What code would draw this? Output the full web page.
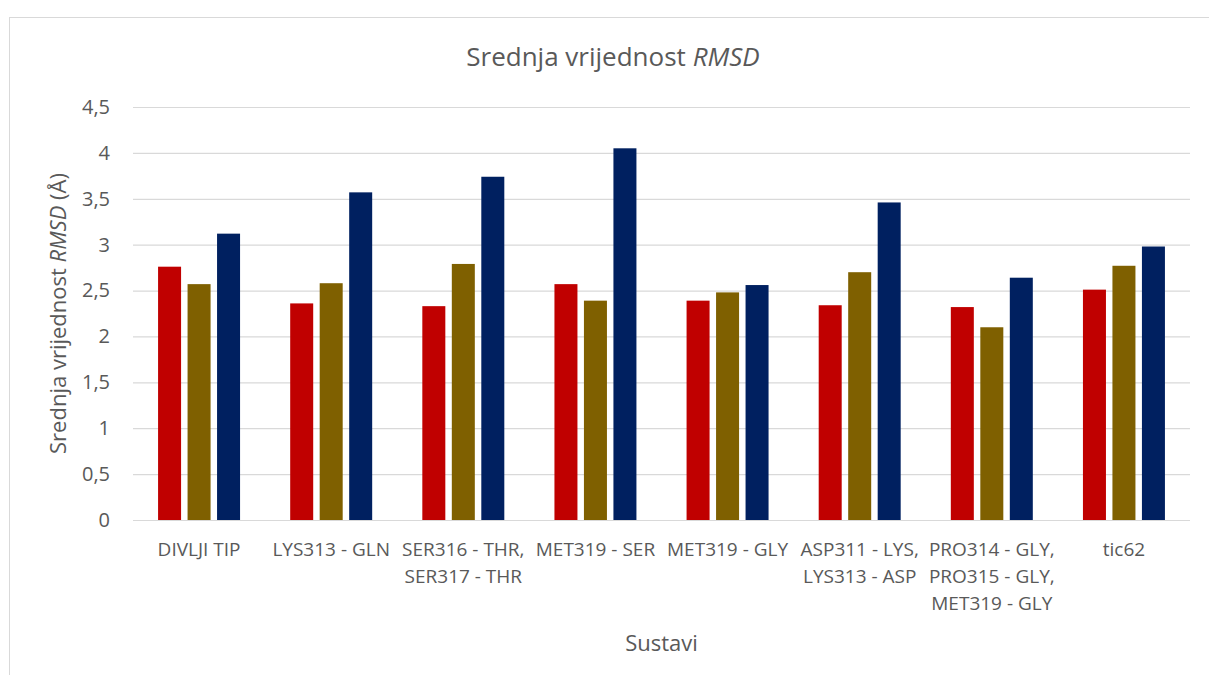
<!DOCTYPE html>
<html>
<head>
<meta charset="utf-8">
<script src="https://cdn.jsdelivr.net/npm/d3@7"></script>
<style>
  html, body { margin: 0; padding: 0; background: #fff; }
  svg { display: block; font-family: "Open Sans", sans-serif; }
</style>
</head>
<body>
<div id="chart"></div>
<script>
// systems (x categories), each label split into lines
const categories = [
  ["DIVLJI TIP"],
  ["LYS313 - GLN"],
  ["SER316 - THR,", "SER317 - THR"],
  ["MET319 - SER"],
  ["MET319 - GLY"],
  ["ASP311 - LYS,", "LYS313 - ASP"],
  ["PRO314 - GLY,", "PRO315 - GLY,", "MET319 - GLY"],
  ["tic62"],
];
const seriesNames = ["s1", "s2", "s3"];
const series1 = [2.76, 2.36, 2.33, 2.57, 2.39, 2.34, 2.32, 2.51];
const series2 = [2.57, 2.58, 2.79, 2.39, 2.48, 2.70, 2.10, 2.77];
const series3 = [3.12, 3.57, 3.74, 4.05, 2.56, 3.46, 2.64, 2.98];
const yTicks = [0, 0.5, 1, 1.5, 2, 2.5, 3, 3.5, 4, 4.5];
const colors = ["#c00000", "#7f6000", "#002060"];

(function drawChart() {
  const width = 1209,
    height = 675,
    margin = { top: 107, right: 19, bottom: 155, left: 133 };

  const catKeys = categories.map((d) => d.join(" "));
  const data = catKeys.map((key, i) => ({
    key: key,
    values: [series1[i], series2[i], series3[i]],
  }));

  const svg = d3
    .select("#chart")
    .append("svg")
    .attr("width", width)
    .attr("height", height);

  // outer chart frame (cut off on right and bottom)
  svg
    .append("rect")
    .attr("x", 9.5)
    .attr("y", 17.5)
    .attr("width", 1230)
    .attr("height", 700)
    .attr("fill", "none")
    .attr("stroke", "#d9d9d9");

  const x = d3
    .scaleBand()
    .domain(catKeys)
    .range([margin.left, width - margin.right]);

  const xSub = d3
    .scaleBand()
    .domain(seriesNames)
    .range([0, x.bandwidth()])
    .paddingInner(0.22)
    .paddingOuter(0.85);

  const y = d3
    .scaleLinear()
    .domain([0, 4.5])
    .range([height - margin.bottom, margin.top]);

  // gridlines + y labels
  const gy = svg
    .append("g")
    .call(
      d3
        .axisLeft(y)
        .tickValues(yTicks)
        .tickSize(-(width - margin.left - margin.right))
        .tickPadding(23)
        .tickFormat((d) => String(d).replace(".", ","))
    )
    .attr("transform", `translate(${margin.left},0)`);
  gy.select(".domain").remove();
  gy.selectAll(".tick line").attr("stroke", "#d9d9d9").attr("stroke-width", 1.2);
  gy.selectAll(".tick text")
    .attr("fill", "#595959")
    .attr("font-size", 20)
    .attr("font-family", "Open Sans");

  // bars
  svg
    .append("g")
    .selectAll("g")
    .data(data)
    .join("g")
    .attr("transform", (d) => `translate(${x(d.key)},0)`)
    .selectAll("rect")
    .data((d) => d.values.map((v, i) => ({ name: seriesNames[i], value: v, i: i })))
    .join("rect")
    .attr("x", (d) => xSub(d.name))
    .attr("y", (d) => y(d.value))
    .attr("width", xSub.bandwidth())
    .attr("height", (d) => y(0) - y(d.value))
    .attr("fill", (d) => colors[d.i]);

  // x category labels
  const gx = svg
    .append("g")
    .selectAll("text")
    .data(categories)
    .join("text")
    .attr("x", (d, i) => x(catKeys[i]) + x.bandwidth() / 2)
    .attr("y", 556)
    .attr("text-anchor", "middle")
    .attr("fill", "#595959")
    .attr("font-size", 19);
  gx.selectAll("tspan")
    .data((d) => d)
    .join("tspan")
    .attr("x", function () {
      return this.parentNode.getAttribute("x");
    })
    .attr("dy", (d, i) => (i === 0 ? 0 : 27))
    .text((d) => d);

  // chart title
  const title = svg
    .append("text")
    .attr("x", 613)
    .attr("y", 66)
    .attr("text-anchor", "middle")
    .attr("fill", "#595959")
    .attr("font-size", 26);
  title.append("tspan").text("Srednja vrijednost ");
  title.append("tspan").attr("font-style", "italic").text("RMSD");

  // axis titles
  svg
    .append("text")
    .attr("x", (margin.left + width - margin.right) / 2)
    .attr("y", 651)
    .attr("text-anchor", "middle")
    .attr("fill", "#595959")
    .attr("font-size", 22)
    .text("Sustavi");

  const yTitle = svg
    .append("text")
    .attr("transform", `translate(66,${(y(0) + y(4.5)) / 2}) rotate(-90)`)
    .attr("text-anchor", "middle")
    .attr("fill", "#595959")
    .attr("font-size", 22);
  yTitle.append("tspan").text("Srednja vrijednost ");
  yTitle.append("tspan").attr("font-style", "italic").text("RMSD");
  yTitle.append("tspan").text(" (Å)");
})();
</script>
</body>
</html>
